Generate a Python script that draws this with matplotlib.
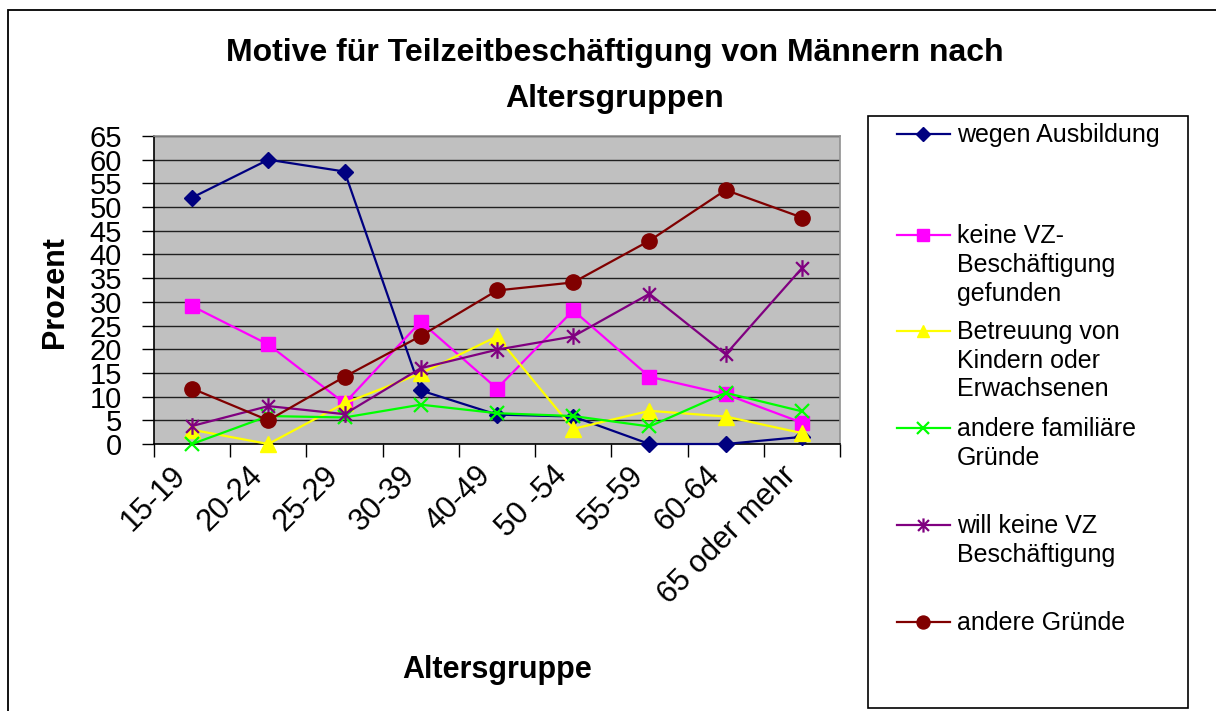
import matplotlib
matplotlib.use("Agg")
import matplotlib.pyplot as plt
from matplotlib.path import Path
from matplotlib.patches import Rectangle
import numpy as np

plt.rcParams['font.family'] = ['Liberation Sans', 'DejaVu Sans']

categories = ["15-19", "20-24", "25-29", "30-39", "40-49", "50 -54", "55-59", "60-64", "65 oder mehr"]

wegen_ausbildung = [52.0, 60.0, 57.5, 11.3, 6.2, 5.8, 0.0, 0.0, 1.5]
keine_vz_gefunden = [29.1, 21.0, 8.6, 25.8, 11.7, 28.2, 14.2, 10.5, 4.5]
betreuung = [3.0, 0.0, 8.6, 14.9, 22.7, 3.2, 7.0, 5.8, 2.3]
andere_familiaere = [0.0, 5.9, 5.6, 8.3, 6.5, 5.9, 3.7, 10.8, 6.9]
will_keine_vz = [3.8, 8.0, 6.3, 16.0, 19.9, 22.7, 31.7, 18.9, 37.1]
andere_gruende = [11.7, 5.0, 14.2, 22.8, 32.4, 34.1, 42.9, 53.6, 47.8]

labels = ["wegen Ausbildung",
          "keine VZ-\nBeschäftigung\ngefunden",
          "Betreuung von\nKindern oder\nErwachsenen",
          "andere familiäre\nGründe",
          "will keine VZ\nBeschäftigung",
          "andere Gründe"]

# Excel-style star marker: x plus vertical bar
star = Path([(-1, -1), (1, 1), (-1, 1), (1, -1), (0, -1.3), (0, 1.3)],
            [Path.MOVETO, Path.LINETO, Path.MOVETO, Path.LINETO, Path.MOVETO, Path.LINETO])

styles = [
    dict(color="#000080", marker="D", ms=8, mfc="#000080", mec="#000080"),
    dict(color="#FF00FF", marker="s", ms=10, mfc="#FF00FF", mec="#FF00FF"),
    dict(color="#FFFF00", marker="^", ms=11, mfc="#FFFF00", mec="#FFFF00"),
    dict(color="#00FF00", marker="x", ms=10, mew=1.6),
    dict(color="#800080", marker=star, ms=12, mew=1.6),
    dict(color="#800000", marker="o", ms=11, mfc="#800000", mec="#800000"),
]
series = [wegen_ausbildung, keine_vz_gefunden, betreuung, andere_familiaere, will_keine_vz, andere_gruende]

W, H = 1216, 711
fig = plt.figure(figsize=(W / 100, H / 100), dpi=100)

# outer chart frame
fig.add_artist(Rectangle((8 / W, -0.2), 1.5, (H - 10) / H + 0.2, transform=fig.transFigure,
                         fill=False, lw=1.3, ec="black", clip_on=False))

ax = fig.add_axes([154 / W, (H - 444) / H, (840 - 154) / W, (444 - 136) / H])
ax.set_facecolor("#C0C0C0")
x = np.arange(len(categories))
for s, st in zip(series, styles):
    ax.plot(x, s, lw=1.6, zorder=3, clip_on=False, **st)

ax.set_xlim(-0.5, len(categories) - 0.5)
ax.set_ylim(0, 65)
ax.set_yticks(np.arange(0, 66, 5))
ax.yaxis.grid(True, color="#202020", lw=1.0)
ax.set_axisbelow(True)
ax.tick_params(axis="y", labelsize=21, length=9, width=1, pad=14, direction="out")
ax.set_xticks(x)
ax.set_xticklabels(categories, rotation=45, ha="right", va="top", fontsize=22)
ax.set_xticks(np.arange(-0.5, len(categories)), minor=True)
ax.tick_params(axis="x", which="major", length=0, pad=12)
ax.tick_params(axis="x", which="minor", length=9, width=1)
for side in ["left", "bottom"]:
    ax.spines[side].set_color("black")
    ax.spines[side].set_linewidth(1.2)
for side in ["top", "right"]:
    ax.spines[side].set_color("#909090")
    ax.spines[side].set_linewidth(1.2)

ax.set_ylabel("Prozent", fontsize=22, fontweight="bold")
ax.set_xlabel("Altersgruppe", fontsize=22, fontweight="bold")
ax.xaxis.set_label_coords((497 - 154) / (840 - 154), -(655 - 444) / (444 - 136))
ax.yaxis.set_label_coords(-(154 - 70) / (840 - 154), (444 - 292) / (444 - 136))

fig.text(615 / W, 1 - 76 / H, "Motive für Teilzeitbeschäftigung von Männern nach\nAltersgruppen",
         ha="center", va="center", fontsize=23, fontweight="bold", linespacing=1.7)

# legend (manual, Excel style)
lax = fig.add_axes([0, 0, 1, 1])
lax.set_xlim(0, W)
lax.set_ylim(H, 0)
lax.axis("off")
lax.add_patch(Rectangle((868, 116), 320, 592, fill=False, lw=1.2, ec="black"))
entry_y = [134, 235, 331, 428, 525, 622]
for lab, st, yy in zip(labels, styles, entry_y):
    lax.plot([897, 923, 950], [yy, yy, yy], lw=1.6, markevery=[1],
             **{**st, "ms": st["ms"] * 0.85})
    lax.text(957, yy - 11, lab, fontsize=18, va="top", ha="left", linespacing=1.25)

fig.savefig("out.png", dpi=100)
